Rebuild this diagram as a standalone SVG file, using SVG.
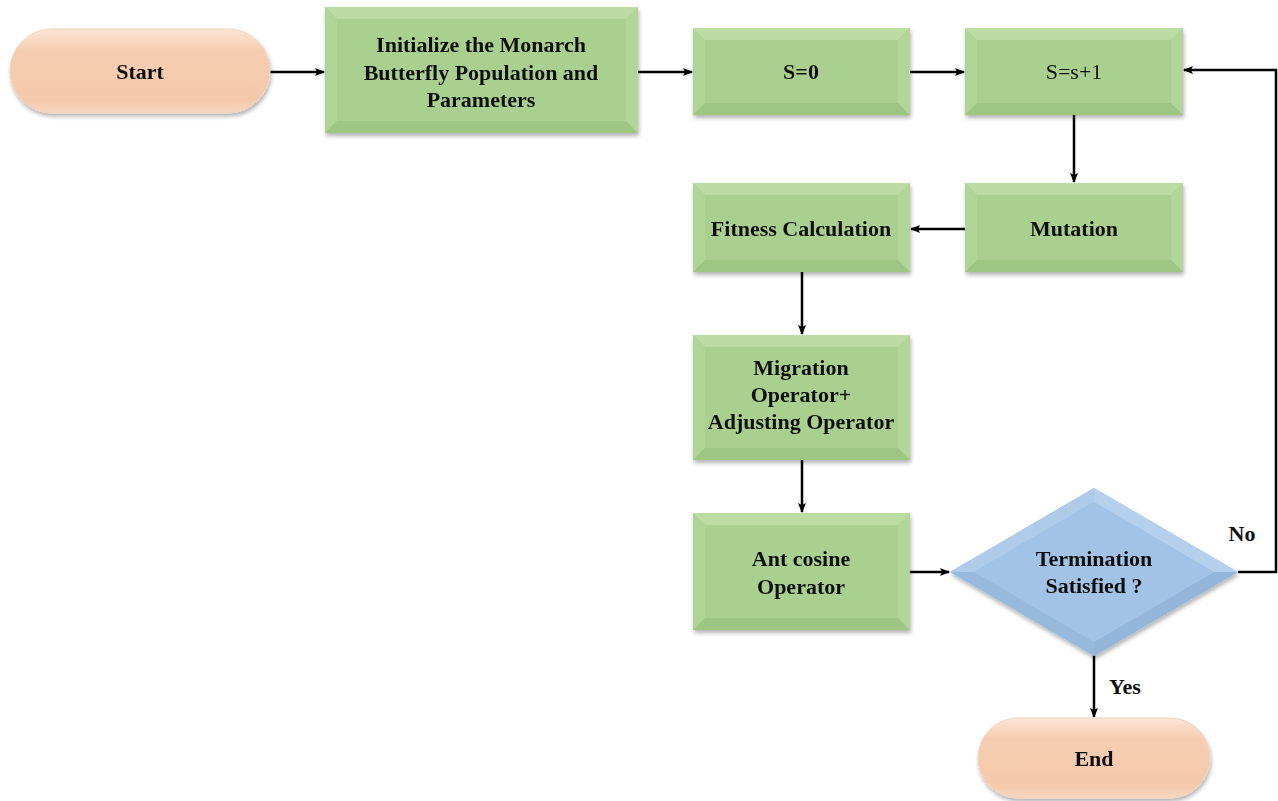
<svg xmlns="http://www.w3.org/2000/svg" width="1278" height="801" viewBox="0 0 1278 801">
<defs>
<linearGradient id="pillG" x1="0" y1="0" x2="0" y2="1">
<stop offset="0" stop-color="#fce6d6"/><stop offset="0.25" stop-color="#f6cdb1"/><stop offset="0.85" stop-color="#f5c9ab"/><stop offset="1" stop-color="#f8d6c0"/>
</linearGradient>
<filter id="sh" x="-10%" y="-10%" width="120%" height="130%">
<feGaussianBlur in="SourceAlpha" stdDeviation="2"/><feOffset dx="1" dy="3"/>
<feComponentTransfer><feFuncA type="linear" slope="0.3"/></feComponentTransfer>
<feMerge><feMergeNode/><feMergeNode in="SourceGraphic"/></feMerge>
</filter>
<marker id="ar" markerWidth="10" markerHeight="8" refX="9" refY="4" orient="auto" markerUnits="userSpaceOnUse">
<path d="M0,0 L10,4 L0,8 L2,4 Z" fill="#000"/>
</marker>
</defs>
<style>
.t{font-family:"Liberation Serif","Times New Roman",serif;font-weight:bold;font-size:22px;fill:#111;text-anchor:middle}
.r{font-weight:normal}
.base{fill:#a9d08e}
.bt{fill:#bcdca4}
.bl{fill:#b0d495}
.br{fill:#b2d699}
.bb{fill:#9ec683}
.c{fill:none;stroke:#000;stroke-width:2.5}
</style>
<g id="connectors">
<line class="c" x1="270" y1="72" x2="324" y2="72" marker-end="url(#ar)"/>
<line class="c" x1="638" y1="72" x2="692" y2="72" marker-end="url(#ar)"/>
<line class="c" x1="910" y1="72" x2="964" y2="72" marker-end="url(#ar)"/>
<line class="c" x1="1074" y1="115" x2="1074" y2="182" marker-end="url(#ar)"/>
<line class="c" x1="965" y1="229" x2="911" y2="229" marker-end="url(#ar)"/>
<line class="c" x1="802" y1="272" x2="802" y2="334" marker-end="url(#ar)"/>
<line class="c" x1="802" y1="460" x2="802" y2="512" marker-end="url(#ar)"/>
<line class="c" x1="910" y1="572" x2="949" y2="572" marker-end="url(#ar)"/>
<polyline class="c" points="1238,572 1276,572 1276,70 1184,70" marker-end="url(#ar)"/>
<line class="c" x1="1094" y1="655" x2="1094" y2="717" marker-end="url(#ar)"/>
<text class="t" x="1242" y="541">No</text>
<text class="t" x="1125" y="694">Yes</text>
</g>
<g id="start" filter="url(#sh)">
<rect x="10" y="29" width="260" height="84" rx="42" fill="url(#pillG)" stroke="#f0d4bf" stroke-width="1"/>
<text class="t" x="140" y="79">Start</text>
</g>
<g id="init" filter="url(#sh)">
<rect class="base" x="325" y="7" width="313" height="126"/>
<polygon class="bt" points="325,7 638,7 626,19 337,19"/>
<polygon class="bl" points="325,7 337,19 337,121 325,133"/>
<polygon class="br" points="638,7 638,133 626,121 626,19"/>
<polygon class="bb" points="325,133 337,121 626,121 638,133"/>
<text class="t" x="481" y="52">Initialize the Monarch</text>
<text class="t" x="481" y="80">Butterfly Population and</text>
<text class="t" x="481" y="107">Parameters</text>
</g>
<g id="s0" filter="url(#sh)">
<rect class="base" x="693" y="28" width="217" height="87"/>
<polygon class="bt" points="693,28 910,28 898,40 705,40"/>
<polygon class="bl" points="693,28 705,40 705,103 693,115"/>
<polygon class="br" points="910,28 910,115 898,103 898,40"/>
<polygon class="bb" points="693,115 705,103 898,103 910,115"/>
<text class="t" x="801" y="79">S=0</text>
</g>
<g id="s1" filter="url(#sh)">
<rect class="base" x="965" y="28" width="218" height="87"/>
<polygon class="bt" points="965,28 1183,28 1171,40 977,40"/>
<polygon class="bl" points="965,28 977,40 977,103 965,115"/>
<polygon class="br" points="1183,28 1183,115 1171,103 1171,40"/>
<polygon class="bb" points="965,115 977,103 1171,103 1183,115"/>
<text class="t r" x="1074" y="79">S=s+1</text>
</g>
<g id="mutation" filter="url(#sh)">
<rect class="base" x="965" y="183" width="218" height="89"/>
<polygon class="bt" points="965,183 1183,183 1171,195 977,195"/>
<polygon class="bl" points="965,183 977,195 977,260 965,272"/>
<polygon class="br" points="1183,183 1183,272 1171,260 1171,195"/>
<polygon class="bb" points="965,272 977,260 1171,260 1183,272"/>
<text class="t" x="1074" y="236">Mutation</text>
</g>
<g id="fitness" filter="url(#sh)">
<rect class="base" x="693" y="183" width="217" height="89"/>
<polygon class="bt" points="693,183 910,183 898,195 705,195"/>
<polygon class="bl" points="693,183 705,195 705,260 693,272"/>
<polygon class="br" points="910,183 910,272 898,260 898,195"/>
<polygon class="bb" points="693,272 705,260 898,260 910,272"/>
<text class="t" x="801" y="236">Fitness Calculation</text>
</g>
<g id="migration" filter="url(#sh)">
<rect class="base" x="693" y="335" width="217" height="125"/>
<polygon class="bt" points="693,335 910,335 898,347 705,347"/>
<polygon class="bl" points="693,335 705,347 705,448 693,460"/>
<polygon class="br" points="910,335 910,460 898,448 898,347"/>
<polygon class="bb" points="693,460 705,448 898,448 910,460"/>
<text class="t" x="801" y="375">Migration</text>
<text class="t" x="801" y="402">Operator+</text>
<text class="t" x="801" y="429">Adjusting Operator</text>
</g>
<g id="antcosine" filter="url(#sh)">
<rect class="base" x="693" y="513" width="217" height="117"/>
<polygon class="bt" points="693,513 910,513 898,525 705,525"/>
<polygon class="bl" points="693,513 705,525 705,618 693,630"/>
<polygon class="br" points="910,513 910,630 898,618 898,525"/>
<polygon class="bb" points="693,630 705,618 898,618 910,630"/>
<text class="t" x="801" y="566">Ant cosine</text>
<text class="t" x="801" y="594">Operator</text>
</g>
<g id="termination" filter="url(#sh)">
<polygon points="1094,488 1238,572 1094,656 950,572" fill="#9fc1e3"/>
<polygon points="1094,488 1238,572 1214,572 1094,502" fill="#b4d0ec"/>
<polygon points="1094,488 1094,502 974,572 950,572" fill="#aecbe9"/>
<polygon points="950,572 974,572 1094,642 1094,656" fill="#96b9dc"/>
<polygon points="1238,572 1094,656 1094,642 1214,572" fill="#93b6da"/>
<polygon points="1094,502 1214,572 1094,642 974,572" fill="#a2c3e5"/>
<text class="t" x="1094" y="566">Termination</text>
<text class="t" x="1094" y="593">Satisfied ?</text>
</g>
<g id="end" filter="url(#sh)">
<rect x="978" y="718" width="232" height="80" rx="40" fill="url(#pillG)" stroke="#f0d4bf" stroke-width="1"/>
<text class="t" x="1094" y="766">End</text>
</g>
</svg>
